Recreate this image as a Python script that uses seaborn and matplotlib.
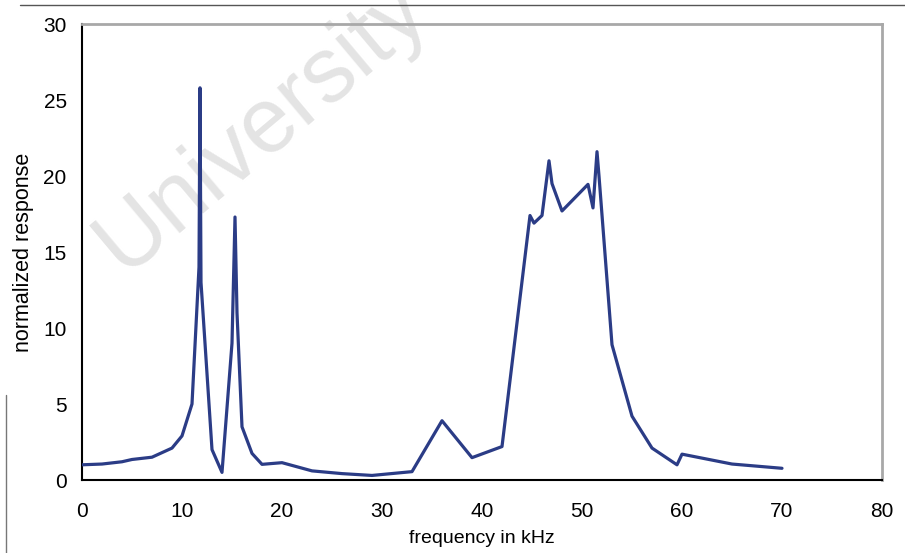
import matplotlib
matplotlib.use("Agg")
import matplotlib.pyplot as plt
import matplotlib.lines as mlines
import seaborn as sns
import pandas as pd

# 数据
freq_khz = [0, 2, 4, 5, 7, 9, 10, 11, 11.7, 11.8, 11.9, 13, 14, 15, 15.3, 15.5,
            16, 17, 18, 20, 23, 26, 29, 33, 36, 39, 42, 44.8, 45.2, 46, 46.7,
            47, 48, 50.6, 51.1, 51.5, 51.7, 53, 55, 57, 59.5, 60, 65, 70]
response = [1.0, 1.05, 1.2, 1.35, 1.5, 2.1, 2.9, 5.0, 14.0, 25.8, 13.0, 2.0,
            0.5, 9.0, 17.3, 11.0, 3.5, 1.75, 1.03, 1.14, 0.6, 0.42, 0.3, 0.55,
            3.9, 1.47, 2.2, 17.4, 16.9, 17.4, 21.0, 19.5, 17.7, 19.45, 17.9,
            21.6, 20.0, 8.9, 4.2, 2.1, 1.0, 1.7, 1.05, 0.77]
x_ticks = [0, 10, 20, 30, 40, 50, 60, 70, 80]
y_ticks = [0, 5, 10, 15, 20, 25, 30]

df = pd.DataFrame({"freq": freq_khz, "resp": response})

sns.set_style("white")
plt.rcParams['font.family'] = ['Liberation Sans', 'DejaVu Sans']

fig = plt.figure(figsize=(9.05, 5.53), dpi=100)
ax = fig.add_axes([82 / 905, 73 / 553, 800 / 905, 456 / 553])

# 水印
ax.text(0.29, 0.77, "University", transform=fig.transFigure, rotation=40,
        fontsize=66, color="#e4e4e4", ha="center", va="center",
        zorder=1, clip_on=False)

sns.lineplot(data=df, x="freq", y="resp", ax=ax, color="#2b3c86",
             linewidth=2.3, sort=False, zorder=3)

ax.set_xlim(0, 80)
ax.set_ylim(0, 30)
ax.set_xticks(x_ticks)
ax.set_yticks(y_ticks)
ax.tick_params(axis="both", direction="out", length=5, width=1.2,
               color="black", labelcolor="black", labelsize=15, pad=6)
ax.tick_params(axis="x", pad=11)

for side in ["left", "bottom"]:
    ax.spines[side].set_color("black")
    ax.spines[side].set_linewidth(1.5)
for side in ["top", "right"]:
    ax.spines[side].set_color("#a8a8a8")
    ax.spines[side].set_linewidth(2)

ax.set_xlabel("frequency in kHz", fontsize=14, labelpad=6, color="black")
ax.set_ylabel("normalized response", fontsize=15.5, labelpad=7, color="black")

# 外框线
fig.add_artist(mlines.Line2D([20 / 905, 1], [1 - 5 / 553, 1 - 5 / 553],
                             transform=fig.transFigure, color="#555555", lw=1))
fig.add_artist(mlines.Line2D([6 / 905, 6 / 905], [0, 1 - 395 / 553],
                             transform=fig.transFigure, color="#777777", lw=1))

fig.savefig("out.png", dpi=100)
